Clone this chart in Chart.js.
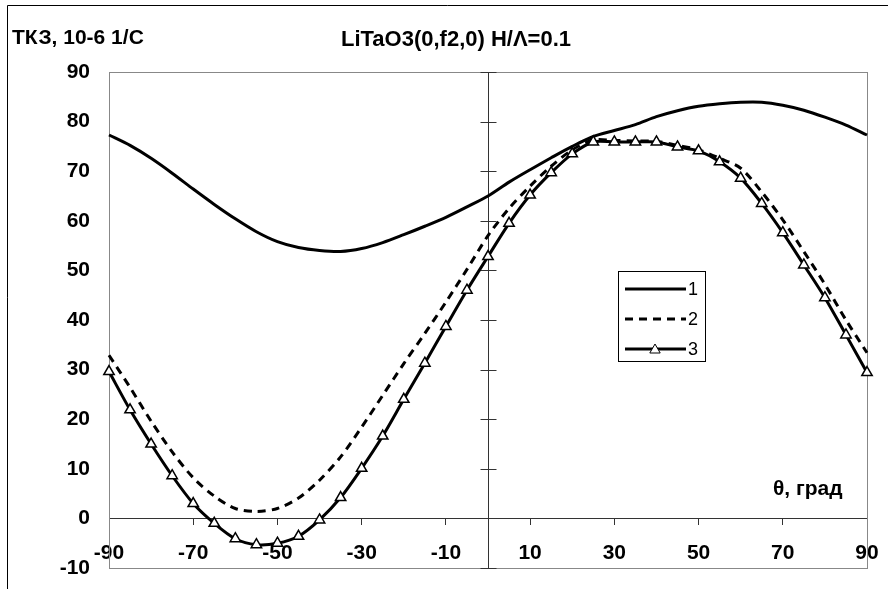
<!DOCTYPE html>
<html>
<head>
<meta charset="utf-8">
<script src="https://cdn.jsdelivr.net/npm/chart.js@4.4.0/dist/chart.umd.min.js"></script>
<style>
    html, body { margin: 0; padding: 0; background: #fff; }
    #wrap { width: 888px; height: 589px; position: relative; }
</style>
</head>
<body>
<div id="wrap"><canvas id="tkzChart" width="888" height="589"></canvas></div>
<script>
// углы, град
const angles = [-90, -85, -80, -75, -70, -65, -60, -55, -50, -45, -40, -35, -30, -25, -20, -15, -10, -5,
    0, 5, 10, 15, 20, 25, 30, 35, 40, 45, 50, 55, 60, 65, 70, 75, 80, 85, 90];

// кривая 1
const series1 = [77.3, 75.2, 72.6, 69.6, 66.4, 63.3, 60.4, 57.8, 55.8, 54.6, 54.0, 53.8, 54.4, 55.6, 57.2, 58.9, 60.7, 62.8,
    65.0, 67.8, 70.3, 72.7, 75.0, 77.0, 78.2, 79.4, 81.0, 82.2, 83.1, 83.6, 83.9, 83.9, 83.3, 82.3, 80.9, 79.3, 77.3];

// кривая 2 (пунктир)
const series2 = [32.9, 26.4, 19.6, 13.4, 8.2, 4.5, 2.0, 1.4, 2.0, 4.1, 7.7, 12.4, 18.4, 24.8, 31.2, 37.3, 43.6, 50.2,
    57.0, 62.5, 67.0, 71.0, 74.3, 76.3, 76.2, 76.1, 76.0, 75.2, 74.3, 72.6, 70.6, 65.8, 60.2, 53.8, 47.2, 40.0, 33.4];

// кривая 3 (с треугольниками)
const series3 = [29.6, 21.9, 15.0, 8.6, 3.0, -1.0, -4.1, -5.3, -5.0, -3.6, -0.3, 4.2, 10.1, 16.6, 24.0, 31.3, 38.7, 46.0,
    52.8, 59.5, 65.2, 69.7, 73.5, 75.9, 75.9, 75.9, 75.9, 74.9, 74.1, 71.9, 68.6, 63.5, 57.6, 51.1, 44.5, 37.0, 29.4];

const seriesNames = ['1', '2', '3'];
const xTicks = [-90, -70, -50, -30, -10, 10, 30, 50, 70, 90];
const yMin = -10;
const yMax = 90;

const titleText = 'LiTaO3(0,f2,0) H/\u039B=0.1';
const yTitleText = 'ТКЗ, 10-6 1/С';
const xTitleText = '\u03B8, град';

const FONT = '"Liberation Sans", Arial, sans-serif';
Chart.defaults.font.family = FONT;
Chart.defaults.color = '#000';

function points(values) {
    return angles.map((a, i) => ({ x: a, y: values[i] }));
}

function setXTicks(s) {
    s.ticks = xTicks.map(v => ({ value: v }));
}

// рамка, подписи, оси через ноль, легенда
const decor = {
    id: 'decor',
    beforeDraw(chart) {
        const ctx = chart.ctx;
        ctx.save();
        ctx.fillStyle = '#fff';
        ctx.fillRect(0, 0, chart.width, chart.height);
        ctx.strokeStyle = '#000';
        ctx.lineWidth = 1;
        ctx.beginPath();
        ctx.moveTo(7.5, chart.height);
        ctx.lineTo(7.5, 5.5);
        ctx.lineTo(chart.width, 5.5);
        ctx.stroke();
        ctx.restore();
    },
    beforeDatasetsDraw(chart) {
        const ctx = chart.ctx;
        const a = chart.chartArea;
        const ys = chart.scales.y;
        const x0 = Math.round(chart.scales.x.getPixelForValue(0)) + 0.5;
        ctx.save();
        ctx.strokeStyle = '#888';
        ctx.lineWidth = 1;
        ctx.strokeRect(Math.round(a.left) + 0.5, Math.round(a.top) + 0.5,
            Math.round(a.right - a.left), Math.round(a.bottom - a.top));
        // засечки оси Y, пересекающие ось
        ctx.strokeStyle = '#333';
        ctx.beginPath();
        ys.ticks.forEach(t => {
            const py = Math.round(ys.getPixelForValue(t.value)) + 0.5;
            ctx.moveTo(x0 - 8, py);
            ctx.lineTo(x0 + 8, py);
        });
        ctx.stroke();
        ctx.restore();
    },
    afterDraw(chart) {
        const ctx = chart.ctx;
        ctx.save();
        ctx.fillStyle = '#000';
        ctx.textBaseline = 'alphabetic';
        ctx.textAlign = 'left';
        ctx.font = 'bold 21px ' + FONT;
        ctx.fillText(yTitleText, 12, 44);
        ctx.textAlign = 'center';
        ctx.font = 'bold 22px ' + FONT;
        ctx.fillText(titleText, 456, 46);
        ctx.textAlign = 'left';
        ctx.font = 'bold 21px ' + FONT;
        ctx.fillText(xTitleText, 773, 495);

        // легенда
        const lx = 618.5, ly = 271.5, lw = 87, lh = 90;
        ctx.fillStyle = '#fff';
        ctx.fillRect(lx, ly, lw, lh);
        ctx.strokeStyle = '#000';
        ctx.lineWidth = 1;
        ctx.strokeRect(lx, ly, lw, lh);
        const rows = [289, 319, 349];
        ctx.font = '18px ' + FONT;
        ctx.textBaseline = 'middle';
        chart.data.datasets.forEach((ds, i) => {
            const ry = rows[i];
            ctx.save();
            ctx.strokeStyle = ds.borderColor;
            ctx.lineWidth = ds.borderWidth;
            ctx.setLineDash(ds.borderDash || []);
            ctx.beginPath();
            ctx.moveTo(625, ry);
            ctx.lineTo(686, ry);
            ctx.stroke();
            ctx.restore();
            if (ds.pointRadius > 0) {
                ctx.save();
                ctx.fillStyle = ds.pointBackgroundColor;
                ctx.strokeStyle = ds.pointBorderColor;
                Chart.helpers.drawPoint(ctx, {
                    pointStyle: ds.pointStyle,
                    radius: ds.pointRadius,
                    borderWidth: ds.pointBorderWidth,
                    rotation: 0
                }, 655, ry + 1);
                ctx.restore();
            }
            ctx.fillStyle = '#000';
            ctx.textAlign = 'left';
            ctx.fillText(ds.label, 688, ry + 1);
        });
        ctx.restore();
    }
};

const canvas = document.getElementById('tkzChart');
const chart = new Chart(canvas.getContext('2d'), {
    type: 'line',
    data: {
        datasets: [
            {
                label: seriesNames[0],
                data: points(series1),
                borderColor: '#000',
                borderWidth: 3,
                pointRadius: 0,
                tension: 0.3,
                fill: false,
                clip: false,
                order: 3
            },
            {
                label: seriesNames[1],
                data: points(series2),
                borderColor: '#000',
                borderWidth: 3,
                borderDash: [8, 6],
                pointRadius: 0,
                tension: 0.3,
                fill: false,
                clip: false,
                order: 2
            },
            {
                label: seriesNames[2],
                data: points(series3),
                borderColor: '#000',
                borderWidth: 3,
                pointStyle: 'triangle',
                pointRadius: 6,
                pointBackgroundColor: '#fff',
                pointBorderColor: '#000',
                pointBorderWidth: 1.5,
                tension: 0.3,
                fill: false,
                clip: false,
                order: 1
            }
        ]
    },
    options: {
        responsive: false,
        animation: false,
        layout: { padding: { top: 72, right: 21, bottom: 21, left: 0 } },
        plugins: {
            legend: { display: false },
            title: { display: false },
            tooltip: { enabled: false }
        },
        scales: {
            // подписи оси X под линией нуля
            x: {
                type: 'linear',
                position: { y: 0 },
                min: -90,
                max: 90,
                afterBuildTicks: setXTicks,
                ticks: {
                    autoSkip: false,
                    maxRotation: 0,
                    minRotation: 0,
                    padding: 0,
                    color: '#000',
                    font: { size: 21, weight: 'bold' }
                },
                grid: { display: false, drawTicks: true, tickLength: 22 },
                border: { display: false }
            },
            // линия нуля и засечки
            xt: {
                type: 'linear',
                axis: 'x',
                position: { y: 0 },
                min: -90,
                max: 90,
                afterBuildTicks: setXTicks,
                ticks: { display: false, padding: 0 },
                grid: { display: true, drawOnChartArea: false, drawTicks: true, tickLength: 6, color: '#333' },
                border: { display: true, color: '#333', width: 1 }
            },
            y: {
                type: 'linear',
                position: 'left',
                min: yMin,
                max: yMax,
                afterFit: s => { s.width = 109; },
                ticks: {
                    stepSize: 10,
                    padding: 0,
                    color: '#000',
                    font: { size: 21, weight: 'bold' }
                },
                grid: { display: false, drawTicks: true, tickLength: 19 },
                border: { display: false }
            },
            y0: {
                type: 'linear',
                axis: 'y',
                position: { x: 0 },
                min: yMin,
                max: yMax,
                ticks: { display: false, padding: 0 },
                grid: { display: false, drawTicks: false },
                border: { display: true, color: '#333', width: 1 }
            }
        }
    },
    plugins: [decor]
});
</script>
</body>
</html>
